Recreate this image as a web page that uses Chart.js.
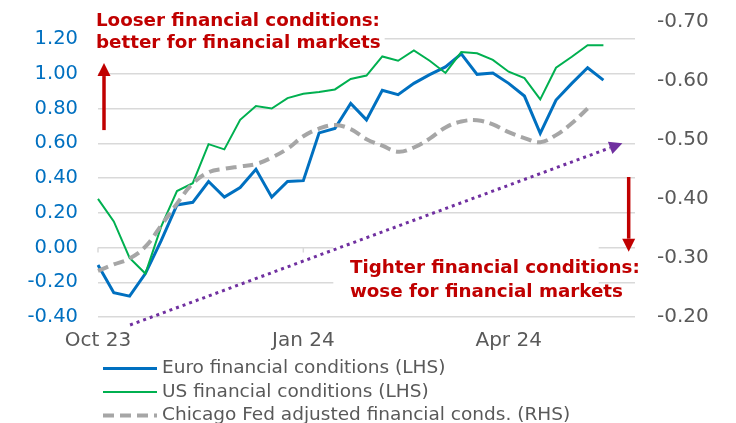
<!DOCTYPE html>
<html>
<head>
<meta charset="utf-8">
<script src="https://cdn.jsdelivr.net/npm/chart.js@4.4.1/dist/chart.umd.min.js"></script>
<style>
  html, body { margin: 0; padding: 0; background: #ffffff; }
  #wrap { width: 736px; height: 423px; position: relative; }
</style>
</head>
<body>
<div id="wrap"><canvas id="fciChart"></canvas></div>
<script>
// weekly observations (week starting), Oct 23 to end of May 24
const weeks = [
  '2023-10-02', '2023-10-09', '2023-10-16', '2023-10-23', '2023-10-30',
  '2023-11-06', '2023-11-13', '2023-11-20', '2023-11-27', '2023-12-04',
  '2023-12-11', '2023-12-18', '2023-12-25', '2024-01-01', '2024-01-08',
  '2024-01-15', '2024-01-22', '2024-01-29', '2024-02-05', '2024-02-12',
  '2024-02-19', '2024-02-26', '2024-03-04', '2024-03-11', '2024-03-18',
  '2024-03-25', '2024-04-01', '2024-04-08', '2024-04-15', '2024-04-22',
  '2024-04-29', '2024-05-06', '2024-05-13', '2024-05-20', '2024-05-27'
];
const tickDates = ['2023-10-02', '2024-01-01', '2024-04-01'];
const tickNames = ['Oct 23', 'Jan 24', 'Apr 24'];

// LHS
const euroFci = [-0.10, -0.26, -0.28, -0.15, 0.04, 0.245, 0.26, 0.38, 0.29, 0.345,
  0.45, 0.29, 0.38, 0.385, 0.66, 0.685, 0.83, 0.735, 0.905, 0.88,
  0.945, 0.995, 1.04, 1.115, 0.997, 1.005, 0.945, 0.872, 0.657, 0.849,
  0.945, 1.035, 0.964];
const usFci = [0.28, 0.15, -0.06, -0.15, 0.12, 0.325, 0.37, 0.595, 0.565, 0.735,
  0.815, 0.80, 0.86, 0.885, 0.895, 0.91, 0.97, 0.99, 1.10, 1.075,
  1.135, 1.075, 1.005, 1.125, 1.118, 1.08, 1.012, 0.975, 0.853, 1.035,
  1.098, 1.165, 1.165];
// RHS (inverted axis)
const chicagoNfci = [-0.278, -0.289, -0.299, -0.319, -0.355, -0.392, -0.426, -0.445,
  -0.451, -0.455, -0.459, -0.470, -0.485, -0.506, -0.519, -0.525,
  -0.518, -0.501, -0.490, -0.480, -0.487, -0.502, -0.521, -0.531,
  -0.533, -0.526, -0.513, -0.503, -0.496, -0.508, -0.528, -0.553];

const RED = '#c00000';
const PURPLE = '#7030a0';
const GREY_TXT = '#595959';
const FONT = "'DejaVu Sans', sans-serif";

Chart.defaults.font.family = FONT;
Chart.defaults.color = GREY_TXT;

// annotation positions in data units (x = week index, y = LHS value)
const noteBoxes = [
  { x0: -0.4, x1: 18.15, y0: 1.42, y1: 1.12 },
  { x0: 14.9, x1: 31.7, y0: 0.008, y1: -0.30 }
];
const notes = [
  { x: -0.13, y: 1.275, text: 'Looser financial conditions:' },
  { x: -0.13, y: 1.148, text: 'better for financial markets' },
  { x: 15.95, y: -0.147, text: 'Tighter financial conditions:' },
  { x: 15.95, y: -0.285, text: 'wose for financial markets' }
];
const arrows = [
  { from: [0.38, 0.676], to: [0.38, 1.062], color: RED, width: 3.5, dash: [] },
  { from: [33.6, 0.406], to: [33.6, -0.024], color: RED, width: 3.5, dash: [] },
  { from: [2.03, -0.446], to: [33.2, 0.60], color: PURPLE, width: 3, dash: [3, 4] }
];

function drawArrow(ctx, x1, y1, x2, y2, a) {
  const ang = Math.atan2(y2 - y1, x2 - x1);
  const headLen = 13, headHalf = 6.5;
  const bx = x2 - headLen * Math.cos(ang), by = y2 - headLen * Math.sin(ang);
  ctx.save();
  ctx.strokeStyle = a.color;
  ctx.fillStyle = a.color;
  ctx.lineWidth = a.width;
  ctx.setLineDash(a.dash);
  ctx.beginPath();
  ctx.moveTo(x1, y1);
  ctx.lineTo(bx, by);
  ctx.stroke();
  ctx.setLineDash([]);
  ctx.beginPath();
  ctx.moveTo(x2, y2);
  ctx.lineTo(bx + headHalf * Math.sin(ang), by - headHalf * Math.cos(ang));
  ctx.lineTo(bx - headHalf * Math.sin(ang), by + headHalf * Math.cos(ang));
  ctx.closePath();
  ctx.fill();
  ctx.restore();
}

const notesPlugin = {
  id: 'fciNotes',
  afterDatasetsDraw(chart) {
    const { ctx, scales } = chart;
    const X = v => scales.x.getPixelForValue(v);
    const Y = v => scales.y.getPixelForValue(v);

    // small tick marks on the zero line
    ctx.save();
    ctx.strokeStyle = '#d9d9d9';
    ctx.lineWidth = 1.5;
    tickDates.forEach(d => {
      const px = X(weeks.indexOf(d));
      ctx.beginPath();
      ctx.moveTo(px, Y(0));
      ctx.lineTo(px, Y(0) + 5);
      ctx.stroke();
    });
    ctx.restore();

    ctx.save();
    ctx.fillStyle = '#ffffff';
    noteBoxes.forEach(b => {
      ctx.fillRect(X(b.x0), Y(b.y0), X(b.x1) - X(b.x0), Y(b.y1) - Y(b.y0));
    });
    ctx.fillStyle = RED;
    ctx.font = "bold 18.3px " + FONT;
    ctx.textAlign = 'left';
    ctx.textBaseline = 'alphabetic';
    notes.forEach(n => ctx.fillText(n.text, X(n.x), Y(n.y)));
    ctx.restore();

    arrows.forEach(a => drawArrow(ctx, X(a.from[0]), Y(a.from[1]), X(a.to[0]), Y(a.to[1]), a));
  },
  afterDraw(chart) {
    // one legend entry per row, under the axis
    const { ctx, chartArea } = chart;
    const left = chartArea.left + 5;
    ctx.save();
    ctx.font = "18.5px " + FONT;
    ctx.textBaseline = 'middle';
    ctx.textAlign = 'left';
    chart.data.datasets.forEach((ds, i) => {
      const yy = chartArea.bottom + 51.5 + i * 23.5;
      ctx.strokeStyle = ds.borderColor;
      ctx.lineWidth = ds.borderWidth;
      ctx.setLineDash(ds.borderDash || []);
      ctx.beginPath();
      ctx.moveTo(left, yy);
      ctx.lineTo(left + 54, yy);
      ctx.stroke();
      ctx.setLineDash([]);
      ctx.fillStyle = GREY_TXT;
      ctx.fillText(ds.label, left + 59, yy);
    });
    ctx.restore();
  }
};

function fixSideAxis(width) {
  return function(scale) {
    scale.width = width;
    scale.paddingTop = 0;
    scale.paddingBottom = 0;
  };
}

new Chart(document.getElementById('fciChart'), {
  type: 'line',
  data: {
    labels: weeks,
    datasets: [
      {
        label: 'Euro financial conditions (LHS)',
        data: euroFci,
        yAxisID: 'y',
        borderColor: '#0070c0',
        borderWidth: 3,
        pointRadius: 0,
        tension: 0,
        order: 3
      },
      {
        label: 'US financial conditions (LHS)',
        data: usFci,
        yAxisID: 'y',
        borderColor: '#00b050',
        borderWidth: 2,
        pointRadius: 0,
        tension: 0,
        order: 2
      },
      {
        label: 'Chicago Fed adjusted financial conds. (RHS)',
        data: chicagoNfci,
        yAxisID: 'y1',
        borderColor: '#a6a6a6',
        borderWidth: 4,
        borderDash: [11, 6],
        pointRadius: 0,
        tension: 0.4,
        order: 1
      }
    ]
  },
  options: {
    responsive: true,
    maintainAspectRatio: false,
    animation: false,
    layout: { padding: { top: 21.7, left: 0, right: 0, bottom: 0 } },
    plugins: {
      legend: { display: false },
      tooltip: { enabled: false }
    },
    scales: {
      x: {
        offset: false,
        border: { display: false },
        grid: { display: false, drawTicks: false },
        ticks: {
          autoSkip: false,
          maxRotation: 0,
          padding: 12,
          color: GREY_TXT,
          font: { size: 20 },
          callback: function(value) {
            const k = tickDates.indexOf(weeks[value]);
            return k >= 0 ? tickNames[k] : '';
          }
        },
        afterFit: function(scale) {
          scale.height = 106;
          scale.paddingLeft = 0;
          scale.paddingRight = 0;
        }
      },
      y: {
        position: 'left',
        min: -0.4,
        max: 1.3,
        border: { display: false },
        grid: { color: '#d9d9d9', lineWidth: 1.5, drawTicks: false },
        ticks: {
          stepSize: 0.2,
          includeBounds: false,
          padding: 20,
          color: '#0070c0',
          font: { size: 19.5 },
          callback: function(value) { return value.toFixed(2); }
        },
        afterFit: fixSideAxis(98)
      },
      y1: {
        position: 'right',
        reverse: true,
        min: -0.7,
        max: -0.2,
        border: { display: false },
        grid: { display: false, drawTicks: false },
        ticks: {
          stepSize: 0.1,
          padding: 22,
          color: GREY_TXT,
          font: { size: 20 },
          callback: function(value) { return value.toFixed(2); }
        },
        afterFit: fixSideAxis(101)
      }
    }
  },
  plugins: [notesPlugin]
});
</script>
</body>
</html>
